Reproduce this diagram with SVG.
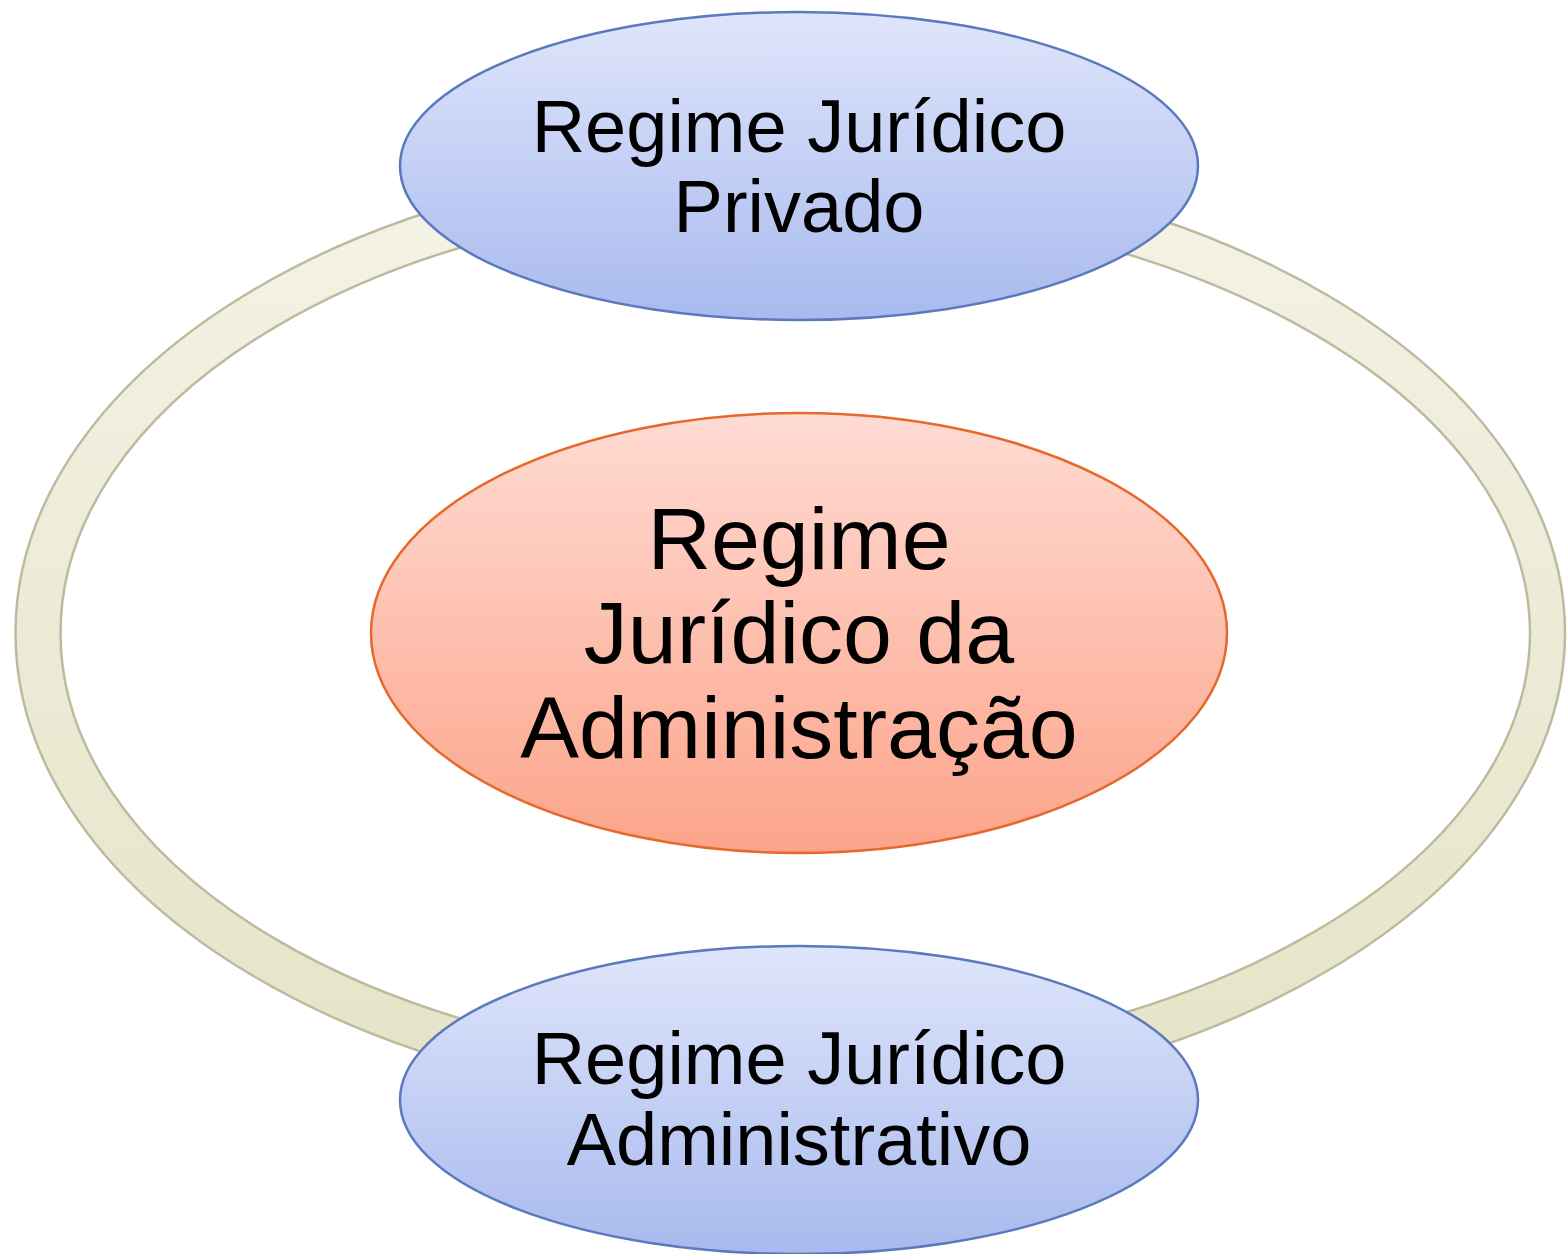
<svg xmlns="http://www.w3.org/2000/svg" width="1567" height="1254" viewBox="0 0 1567 1254">
  <defs>
    <linearGradient id="gRing" x1="0" y1="0" x2="0" y2="1">
      <stop offset="0" stop-color="#f4f3e6"/>
      <stop offset="1" stop-color="#e5e3c6"/>
    </linearGradient>
    <linearGradient id="gBlue" x1="0" y1="0" x2="0" y2="1">
      <stop offset="0" stop-color="#dfe5fb"/>
      <stop offset="1" stop-color="#a8baee"/>
    </linearGradient>
    <linearGradient id="gOrange" x1="0" y1="0" x2="0" y2="1">
      <stop offset="0" stop-color="#ffdbd3"/>
      <stop offset="1" stop-color="#fca48a"/>
    </linearGradient>
  </defs>
  <style>
    .ring { fill: url(#gRing); fill-rule: evenodd; stroke: #bcbb9f; stroke-width: 2.5; }
    .blue { fill: url(#gBlue); stroke: #5b79bd; stroke-width: 2.5; }
    .orange { fill: url(#gOrange); stroke: #e5692b; stroke-width: 2.5; }
    .lbl { font-family: "Liberation Sans", Arial, sans-serif; fill: #000; text-anchor: middle; }
    .s74 { font-size: 74px; }
    .s88 { font-size: 88px; }
  </style>
  <g id="connectors">
    <path class="ring" d="M 795 156 A 779.5 477 0 0 0 795 1110 L 757 1110 A 808 477 0 0 0 757 156 Z M 795 200 A 734.5 433 0 0 0 795 1066 L 749 1066 A 781 433 0 0 0 749 200 Z"/>
  </g>
  <g id="node-center">
    <ellipse class="orange" cx="799" cy="633" rx="428" ry="220"/>
    <text class="lbl s88" x="799" y="569">Regime</text>
    <text class="lbl s88" x="799" y="663">Jurídico da</text>
    <text class="lbl s88" x="799" y="758">Administração</text>
  </g>
  <g id="node-top">
    <ellipse class="blue" cx="799" cy="166" rx="399" ry="154"/>
    <text class="lbl s74" x="799" y="152">Regime Jurídico</text>
    <text class="lbl s74" x="799" y="232">Privado</text>
  </g>
  <g id="node-bottom">
    <ellipse class="blue" cx="799" cy="1100" rx="399" ry="154"/>
    <text class="lbl s74" x="799" y="1084">Regime Jurídico</text>
    <text class="lbl s74" x="799" y="1165">Administrativo</text>
  </g>
</svg>
